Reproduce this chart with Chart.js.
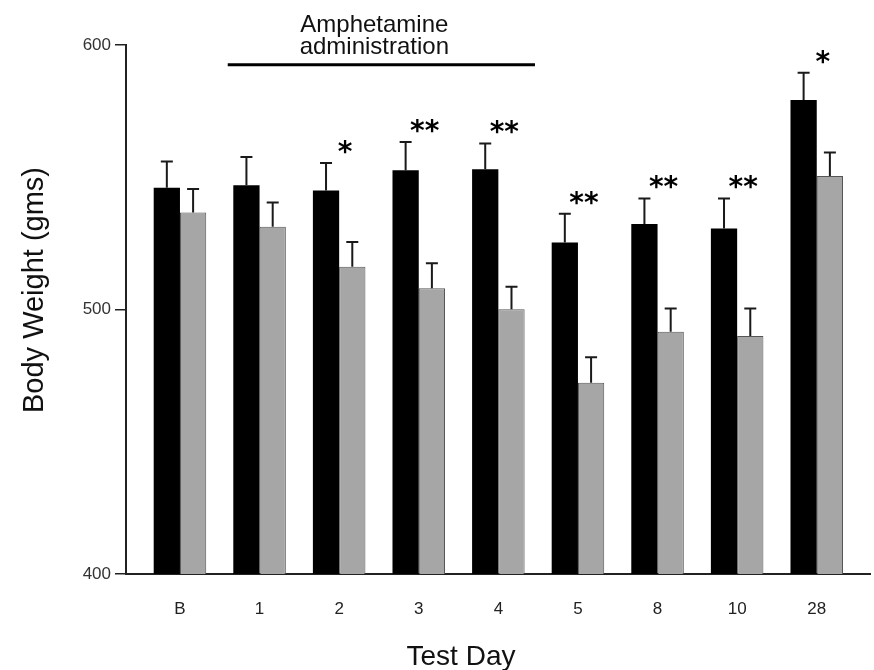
<!DOCTYPE html>
<html>
<head>
<meta charset="utf-8">
<script src="https://cdn.jsdelivr.net/npm/chart.js@4.4.0/dist/chart.umd.min.js"></script>
<style>
  html, body { margin: 0; padding: 0; background: #fff; }
</style>
</head>
<body>
<canvas id="myChart" width="874" height="670"></canvas>
<script>
// test days and body weights (gms)
var days = ['B', '1', '2', '3', '4', '5', '8', '10', '28'];
var amphWeight = [546, 547, 545, 552.6, 553, 525.3, 532.3, 530.6, 579.2];
var amphErr = [10, 10.7, 10.4, 10.7, 9.8, 10.9, 9.7, 11.4, 10.3];
var ctrlWeight = [536.7, 531.3, 516.2, 508, 500.1, 472.3, 491.6, 490, 550.5];
var ctrlErr = [8.9, 9.2, 9.3, 9.5, 8.5, 9.6, 8.8, 10.4, 8.9];
var signif = ['', '', '*', '**', '**', '**', '**', '**', '*'];
var yTicks = [400, 500, 600];
var drugSpan = [0.6, 4.46]; // amphetamine period, in day slots

var font = "'Liberation Sans', Arial, sans-serif";

var extras = {
  id: 'extras',
  afterDatasetsDraw: function(chart) {
    var c = chart.ctx, xs = chart.scales.x, ys = chart.scales.y;
    c.save();
    // error bars, upward only
    c.strokeStyle = '#1a1a1a';
    c.lineWidth = 2;
    [amphErr, ctrlErr].forEach(function(errs, d) {
      var meta = chart.getDatasetMeta(d);
      meta.data.forEach(function(bar, i) {
        var v = chart.data.datasets[d].data[i].y;
        var top = ys.getPixelForValue(v + errs[i]);
        c.beginPath();
        c.moveTo(bar.x, bar.y);
        c.lineTo(bar.x, top);
        c.moveTo(bar.x - 6, top);
        c.lineTo(bar.x + 6, top);
        c.stroke();
      });
    });
    // significance stars
    c.fillStyle = '#000';
    c.font = "bold 28px 'DejaVu Sans', sans-serif";
    c.textAlign = 'center';
    c.textBaseline = 'alphabetic';
    signif.forEach(function(s, i) {
      if (!s) return;
      var px = xs.getPixelForValue(i) + 6;
      var py = ys.getPixelForValue(amphWeight[i] + amphErr[i]) - 2;
      c.fillText(s, px, py);
    });
    // amphetamine administration bar
    var x0 = xs.getPixelForValue(drugSpan[0]), x1 = xs.getPixelForValue(drugSpan[1]);
    var ly = ys.getPixelForValue(592.5);
    c.lineWidth = 3;
    c.strokeStyle = '#000';
    c.beginPath();
    c.moveTo(x0, ly);
    c.lineTo(x1, ly);
    c.stroke();
    c.font = '24px ' + font;
    c.fillStyle = '#111';
    var tx = (x0 + x1) / 2 - 7;
    c.fillText('Amphetamine', tx, ly - 33);
    c.fillText('administration', tx, ly - 11);
    // axis titles
    c.font = '28px ' + font;
    c.fillText('Test Day', 461, 665);
    c.translate(43, 290);
    c.rotate(-Math.PI / 2);
    c.font = '29px ' + font;
    c.fillText('Body Weight (gms)', 0, 0);
    c.restore();
  }
};

var ctx = document.getElementById('myChart');
var myChart = new Chart(ctx, {
  type: 'bar',
  data: {
    datasets: [{
      label: 'Amphetamine',
      data: amphWeight.map(function(v, i) { return {x: i, y: v}; }),
      backgroundColor: '#000',
      borderWidth: 0
    }, {
      label: 'Control',
      data: ctrlWeight.map(function(v, i) { return {x: i, y: v}; }),
      backgroundColor: '#a6a6a6',
      borderColor: '#555',
      borderWidth: 1
    }]
  },
  options: {
    responsive: false,
    animation: false,
    layout: { padding: { top: 45, right: 4, left: 0, bottom: 0 } },
    datasets: { bar: { categoryPercentage: 0.66, barPercentage: 1.0 } },
    plugins: { legend: { display: false }, tooltip: { enabled: false } },
    scales: {
      x: {
        type: 'linear',
        offset: false,
        min: -0.678,
        max: 8.669,
        afterBuildTicks: function(axis) {
          axis.ticks = days.map(function(d, i) { return {value: i}; });
        },
        afterFit: function(s) { s.height = 96; },
        grid: { display: false, offset: false },
        border: { display: true, color: '#222', width: 2 },
        ticks: {
          padding: 17,
          color: '#222',
          font: { family: font, size: 17 },
          callback: function(v) { return days[Math.round(v)]; }
        }
      },
      y: {
        min: 400,
        max: 600,
        afterBuildTicks: function(axis) {
          axis.ticks = yTicks.map(function(v) { return {value: v}; });
        },
        afterFit: function(s) { s.width = 126; },
        grid: { drawOnChartArea: false, drawTicks: true, tickLength: 11, color: '#222', lineWidth: 1.5 },
        border: { display: true, color: '#222', width: 2 },
        ticks: {
          padding: 4,
          color: '#333',
          font: { family: font, size: 17 }
        }
      }
    }
  },
  plugins: [extras]
});
</script>
</body>
</html>
